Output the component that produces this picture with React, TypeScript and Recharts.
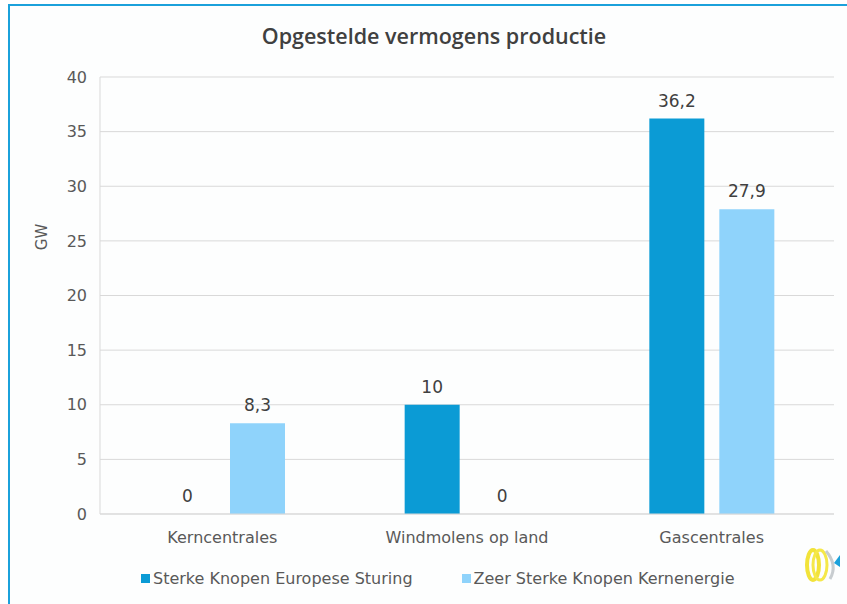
import { BarChart, Bar, XAxis, YAxis, CartesianGrid, LabelList, Legend } from "recharts"

const categories = ["Kerncentrales", "Windmolens op land", "Gascentrales"]
const sterkeEuropese = [0, 10, 36.2]
const zeerSterkeKern = [8.3, 0, 27.9]
const yTicks = [0, 5, 10, 15, 20, 25, 30, 35, 40]

const series = [
  { key: "europese", name: "Sterke Knopen Europese Sturing", color: "#0b9bd5" },
  { key: "kern", name: "Zeer Sterke Knopen Kernenergie", color: "#8fd3fb" },
]

const rows = categories.map((c, i) => ({
  name: c,
  europese: sterkeEuropese[i],
  kern: zeerSterkeKern[i],
}))

const font = "'DejaVu Sans', sans-serif"
const titleFont = "'Open Sans', sans-serif"
const fmt = (v: any) => String(v).replace(".", ",")

function LegendBox() {
  return (
    <div style={{ display: "flex", fontFamily: font, fontSize: 16, color: "#595959" }}>
      {series.map((s, i) => (
        <div key={s.key} style={{ display: "flex", alignItems: "center", marginLeft: i ? 49 : 0 }}>
          <span style={{ width: 9, height: 9, background: s.color, marginRight: 3, display: "inline-block" }} />
          <span>{s.name}</span>
        </div>
      ))}
    </div>
  )
}

function GwLabel(props: any) {
  const vb = props.viewBox || {}
  const x = vb.x + 2
  const y = vb.y + 160
  return (
    <text x={x} y={y} transform={`rotate(-90 ${x} ${y})`} textAnchor="middle" dominantBaseline="central"
      fill="#595959" fontSize={15} fontFamily={font}>GW</text>
  )
}

// value above the bar; zero bars get a tiny min size so they still get one
function ValueLabel(props: any) {
  const { x, y, width, height, value } = props
  if (value == null) return null
  const top = Math.min(Number(y), Number(y) + Number(height))
  return (
    <text x={Number(x) + Number(width) / 2} y={top - 12} textAnchor="middle"
      fill="#404040" fontSize={17} fontFamily={font}>{fmt(value)}</text>
  )
}

function Logo() {
  return (
    <svg width={44} height={40} style={{ position: "absolute", left: 800, top: 545 }}>
      <ellipse cx={13} cy={20} rx={6} ry={15} fill="none" stroke="#f2e33a" strokeWidth={4} />
      <ellipse cx={20} cy={20} rx={7} ry={15} fill="none" stroke="#f5e84a" strokeWidth={3} />
      <path d="M26 6 Q38 20 30 34" fill="none" stroke="#c8cdd0" strokeWidth={3} />
      <polygon points="34,18 40,10 40,22" fill="#1ba1db" />
    </svg>
  )
}

export default function App() {
  return (
    <div style={{ position: "absolute", left: 0, top: 0, width: 847, height: 604, background: "#ffffff", overflow: "hidden" }}>
      <div style={{ position: "absolute", left: 8, top: 4, width: 839, height: 600, borderTop: "2px solid #1ba1db", borderLeft: "2px solid #1ba1db", background: "#fdfefe" }} />
      <div style={{ position: "absolute", left: 0, top: 21, width: 868, textAlign: "center", fontFamily: titleFont, fontSize: 21.5, fontWeight: 600, color: "#404040" }}>
        Opgestelde vermogens productie
      </div>
      <div style={{ position: "absolute", left: 0, top: 0 }}>
        <BarChart width={847} height={604} data={rows} margin={{ top: 77, right: 13, bottom: 60, left: 40 }}
          barSize={55} barGap={15}>
          <CartesianGrid vertical={false} stroke="#d9d9d9" />
          <XAxis dataKey="name" axisLine={{ stroke: "#d9d9d9" }} tickLine={false} tickSize={0} tickMargin={18}
            tick={{ fill: "#595959", fontSize: 16, fontFamily: font }} />
          <YAxis domain={[0, 40]} ticks={yTicks} axisLine={{ stroke: "#d9d9d9" }} tickLine={false} tickSize={0}
            tickMargin={13} tick={{ fill: "#595959", fontSize: 16, fontFamily: font }} label={<GwLabel />} />
          <YAxis yAxisId="right" orientation="right" width={0} domain={[0, 40]} tick={false} tickLine={false}
            axisLine={{ stroke: "#d9d9d9" }} />
          <Legend layout="horizontal" verticalAlign="middle" align="center" content={<LegendBox />}
            wrapperStyle={{ top: 569, left: 141, width: "auto" }} />
          {series.map((s) => (
            <Bar key={s.key} dataKey={s.key} name={s.name} fill={s.color} minPointSize={0.01} isAnimationActive={false}>
              <LabelList dataKey={s.key} content={<ValueLabel />} />
            </Bar>
          ))}
        </BarChart>
      </div>
      <Logo />
    </div>
  )
}
